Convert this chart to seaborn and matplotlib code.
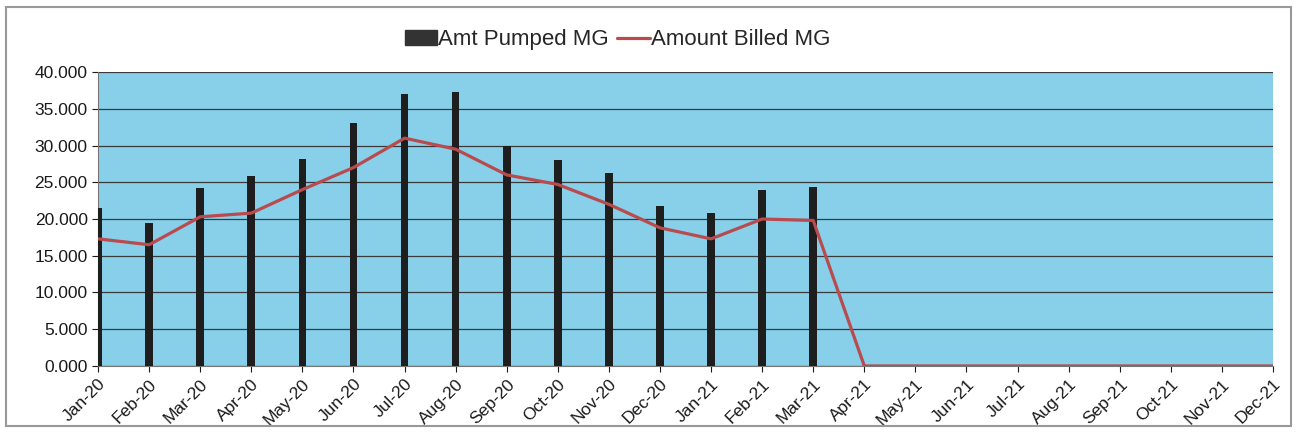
import numpy as np
import pandas as pd
import matplotlib
matplotlib.use("Agg")
import matplotlib.pyplot as plt
import seaborn as sns
from matplotlib.patches import Rectangle
from matplotlib.lines import Line2D
from matplotlib.ticker import FormatStrFormatter

months = ['Jan-20', 'Feb-20', 'Mar-20', 'Apr-20', 'May-20', 'Jun-20', 'Jul-20', 'Aug-20',
          'Sep-20', 'Oct-20', 'Nov-20', 'Dec-20', 'Jan-21', 'Feb-21', 'Mar-21', 'Apr-21',
          'May-21', 'Jun-21', 'Jul-21', 'Aug-21', 'Sep-21', 'Oct-21', 'Nov-21', 'Dec-21']
amt_pumped = [21.5, 19.5, 24.2, 25.8, 28.2, 33.0, 37.0, 37.3, 30.0, 28.0, 26.3, 21.8,
              20.8, 24.0, 24.3, np.nan, np.nan, np.nan, np.nan, np.nan, np.nan, np.nan,
              np.nan, np.nan]
amt_billed = [17.3, 16.5, 20.3, 20.8, 24.0, 27.0, 31.0, 29.5, 26.0, 24.7, 22.0, 18.8,
              17.3, 20.0, 19.8, 0, 0, 0, 0, 0, 0, 0, 0, 0]

df = pd.DataFrame({'month': months, 'pumped': amt_pumped, 'billed': amt_billed})
df['pos'] = np.arange(len(df))

sns.set_style("white")
plt.rcParams['font.family'] = ['Liberation Sans', 'DejaVu Sans']

fig = plt.figure(figsize=(12.97, 4.44), dpi=100)
ax = fig.add_axes([0.0756, 0.1757, 0.9059, 0.6621])

bar_color = '#1e1e1e'
line_color = '#b94a4d'

ax.set_facecolor('#88cfe9')
sns.barplot(data=df, x='pos', y='pumped', color=bar_color, width=0.15,
            native_scale=True, saturation=1, linewidth=0, ax=ax, zorder=3)
sns.lineplot(data=df, x='pos', y='billed', color=line_color, linewidth=2.3,
             ax=ax, zorder=4)

ax.set_xlim(0, len(months) - 1)
ax.set_ylim(0, 40)
ax.set_yticks(np.arange(0, 40.1, 5))
ax.yaxis.set_major_formatter(FormatStrFormatter('%.3f'))
ax.set_xticks(df['pos'])
ax.set_xticklabels(months, rotation=45, ha='right', rotation_mode='anchor')
ax.tick_params(axis='both', labelsize=12.5, colors='#1a1a1a', length=4,
               direction='out', bottom=True, left=True)
ax.set_xlabel('')
ax.set_ylabel('')
ax.grid(axis='y', color='#3a3a3a', linewidth=0.9, zorder=1)
ax.set_axisbelow(True)
for side in ['top', 'right']:
    ax.spines[side].set_visible(False)
for side in ['left', 'bottom']:
    ax.spines[side].set_color('#777777')

handles = [Rectangle((0, 0), 1, 1, color='#333333'),
           Line2D([0], [0], color=line_color, linewidth=2.3)]
fig.legend(handles, ['Amt Pumped MG', 'Amount Billed MG'], loc='center',
           bbox_to_anchor=(0.476, 0.91), ncol=2, frameon=False, fontsize=16,
           handlelength=1.45, handletextpad=0.05, columnspacing=0.4)

fig.patches.append(Rectangle((0.005, 0.04), 0.99, 0.945, transform=fig.transFigure,
                             fill=False, edgecolor='#999999', linewidth=1.5))

fig.savefig('out.png', dpi=100)
